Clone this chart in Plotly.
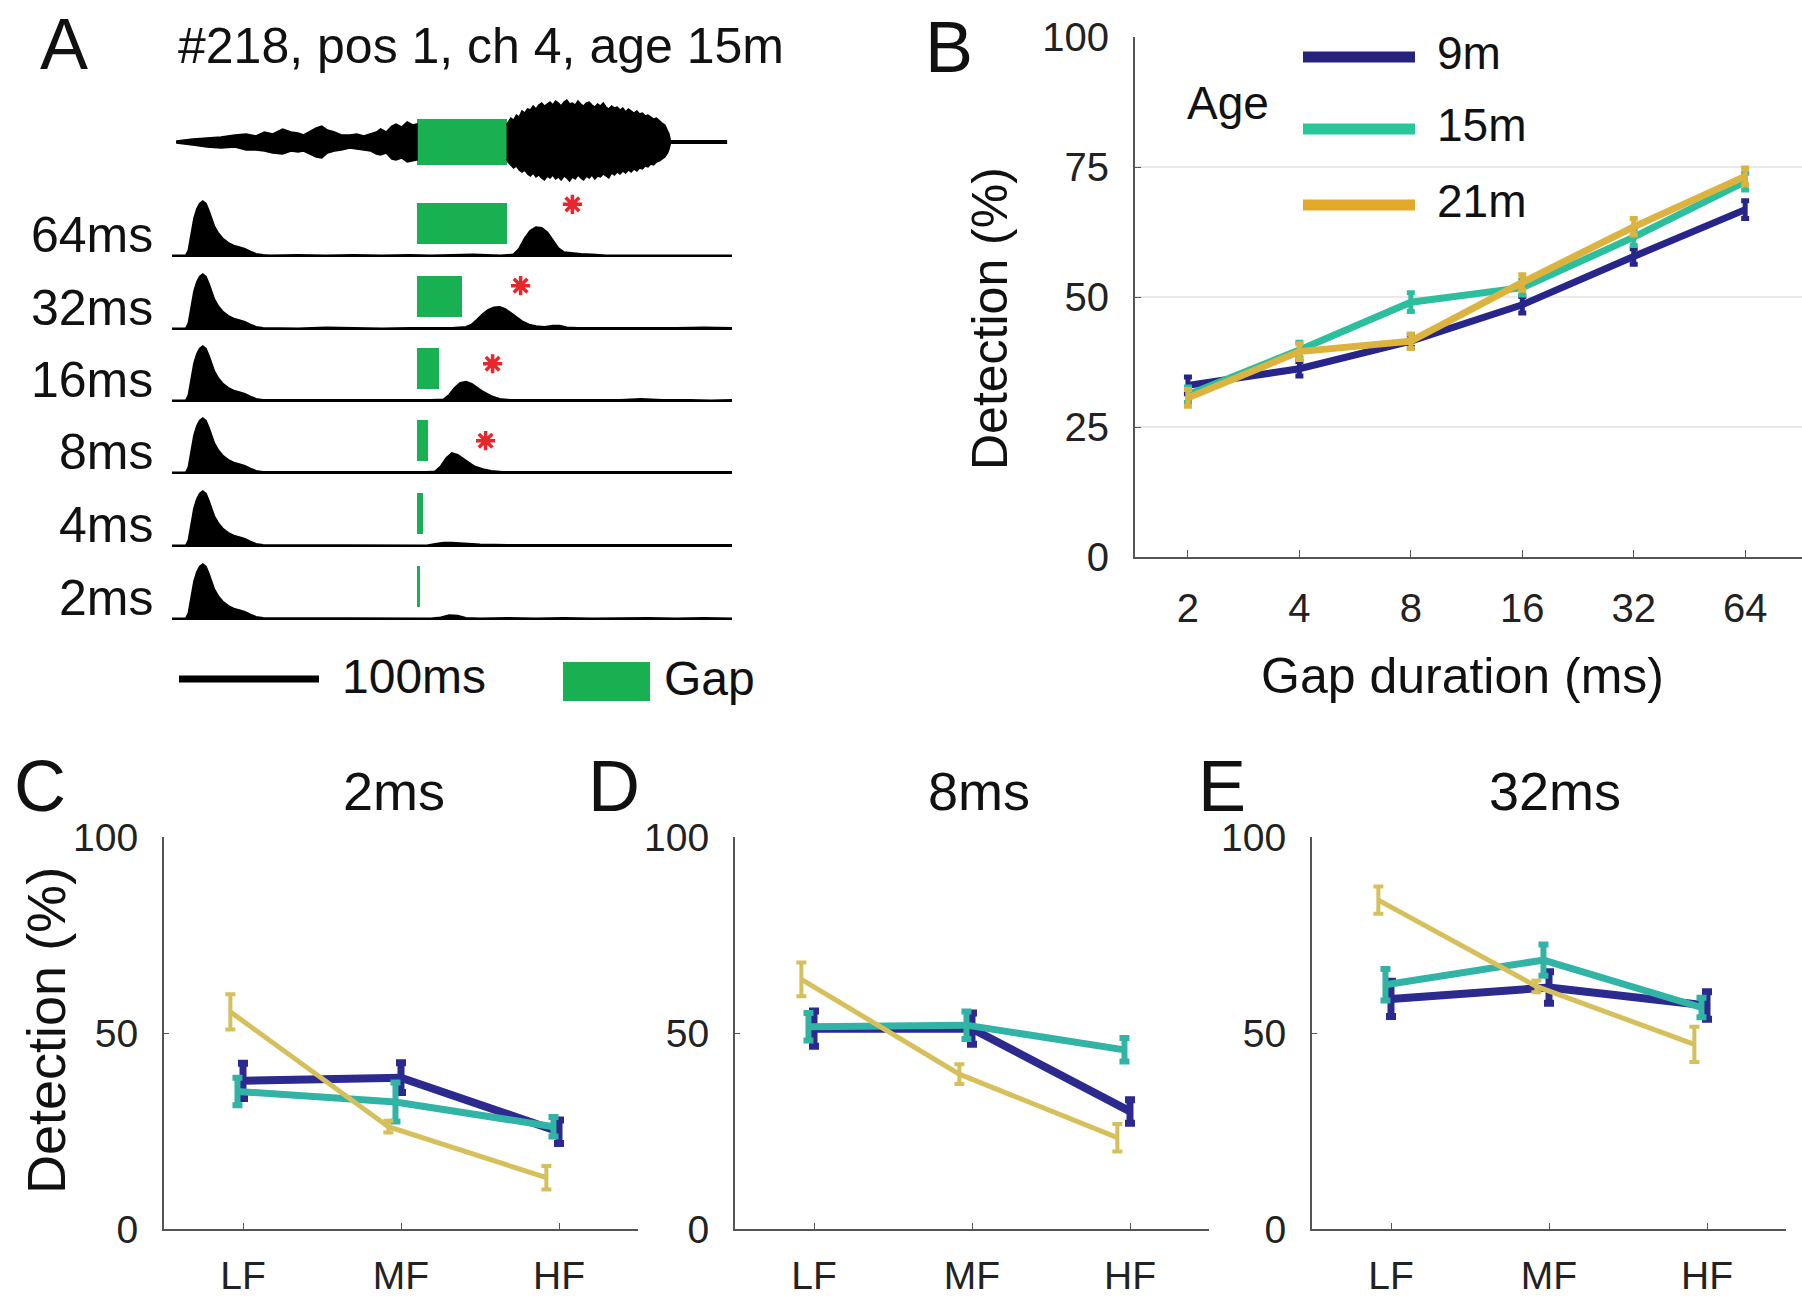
import plotly.graph_objects as go

W, H = 1802, 1302
def px(x): return x / W
def py(y): return 1 - y / H

FONT = "Liberation Sans, Arial, Helvetica, sans-serif"
TXT = "#111111"

# ---------------- Panel A data ----------------
wave_pre_t = [3, 8, 15, 25, 35, 45, 53, 60, 66, 72, 79, 85, 90, 94, 99, 103, 107, 111, 116, 121, 127, 132, 137,
              142, 146, 149, 153, 157, 160, 164, 168, 172, 175]
wave_pre_up = [1, 2, 3, 4, 5, 7, 8, 6, 10, 8, 13, 10, 9, 7, 11, 14, 16, 12, 10, 7, 7, 8, 6, 8, 10, 13, 10, 16,
               18, 15, 20, 17, 18]
wave_pre_lo = [1, 2, 3, 5, 6, 5, 8, 8, 9, 11, 12, 9, 10, 9, 12, 15, 16, 11, 9, 8, 6, 7, 8, 9, 12, 13, 11, 17,
               18, 16, 20, 19, 18]
wave_post_t = [239, 240, 242, 244, 246, 248, 250, 252, 254, 256, 258, 260, 262, 264, 266, 268, 270, 272, 274,
               276, 278, 280, 282, 284, 286, 288, 290, 292, 294, 296, 298, 300, 302, 304, 306, 308, 310, 312,
               314, 316, 318, 320, 322, 324, 326, 328, 330, 332, 334, 336, 338, 340, 342, 344, 346, 348, 350,
               352, 354, 355, 356, 396]
wave_post_up = [17, 19, 24, 22, 27, 25, 31, 29, 33, 32, 36, 33, 37, 39, 36, 38, 40, 37, 41, 39,
                36, 40, 42, 38, 39, 37, 41, 38, 36, 39, 40, 37, 35, 38, 36, 39, 35, 33, 36, 34,
                35, 32, 34, 30, 33, 31, 29, 31, 28, 29, 26, 27, 25, 23, 24, 21, 19, 17, 12, 8,
                1.3, 1.3]
wave_post_lo = [17, 20, 23, 26, 24, 28, 30, 28, 32, 34, 31, 35, 33, 36, 38, 34, 36, 33, 37, 35,
                38, 34, 36, 39, 35, 37, 33, 36, 38, 34, 36, 33, 37, 34, 35, 32, 34, 36, 31, 33,
                30, 32, 29, 31, 28, 30, 27, 29, 26, 27, 24, 25, 22, 23, 20, 19, 17, 15, 11, 7,
                1.3, 1.3]

gap_start = 175
gap_durations = [64, 32, 16, 8, 4, 2]
row_labels = ["64ms", "32ms", "16ms", "8ms", "4ms", "2ms"]

onset_t = [0, 10, 12, 14, 16, 18, 20, 22, 24, 26, 28, 30, 33, 36, 40, 44, 48, 52, 56, 60, 65]
onset_v = [0.02, 0.02, 0.12, 0.42, 0.7, 0.86, 0.96, 1.0, 0.96, 0.84, 0.68, 0.55, 0.42, 0.33, 0.25, 0.2,
           0.17, 0.14, 0.09, 0.05, 0.03]

r64_t = [70, 90, 110, 130, 150, 170, 185, 200, 215, 225, 235, 244, 248, 252, 256, 260, 264, 268, 272, 276,
         280, 286, 292, 300, 310, 330, 350, 370, 400]
r64_v = [0.02, 0.03, 0.02, 0.03, 0.02, 0.03, 0.02, 0.03, 0.04, 0.03, 0.02, 0.04, 0.14, 0.33, 0.47, 0.53, 0.52,
         0.44, 0.3, 0.15, 0.08, 0.06, 0.05, 0.04, 0.02, 0.02, 0.02, 0.02, 0.02]
r32_t = [70, 90, 110, 130, 150, 170, 190, 200, 210, 214, 218, 222, 226, 230, 234, 238, 242, 246, 250, 255,
         260, 266, 272, 277, 282, 290, 300, 320, 340, 360, 380, 400]
r32_v = [0.03, 0.02, 0.04, 0.03, 0.02, 0.03, 0.03, 0.03, 0.05, 0.09, 0.18, 0.28, 0.36, 0.4, 0.41, 0.37, 0.3,
         0.22, 0.15, 0.09, 0.06, 0.05, 0.07, 0.07, 0.04, 0.03, 0.03, 0.02, 0.03, 0.03, 0.04, 0.03]
r16_t = [70, 90, 110, 130, 150, 170, 185, 194, 198, 202, 206, 210, 214, 218, 222, 228, 234, 242, 260, 280,
         300, 320, 335, 350, 370, 385, 400]
r16_v = [0.03, 0.03, 0.02, 0.03, 0.03, 0.02, 0.03, 0.04, 0.12, 0.25, 0.34, 0.36, 0.32, 0.25, 0.18, 0.1, 0.05,
         0.03, 0.03, 0.03, 0.02, 0.03, 0.05, 0.03, 0.03, 0.02, 0.03]
r8_t = [70, 90, 110, 130, 150, 170, 182, 188, 192, 196, 200, 204, 208, 212, 216, 222, 228, 236, 250, 270,
        290, 310, 330, 350, 370, 400]
r8_v = [0.03, 0.03, 0.03, 0.02, 0.03, 0.02, 0.03, 0.04, 0.13, 0.28, 0.37, 0.34, 0.27, 0.19, 0.13, 0.08, 0.05,
        0.03, 0.03, 0.03, 0.02, 0.03, 0.03, 0.02, 0.03, 0.03]
r4_t = [70, 90, 110, 130, 150, 170, 182, 188, 194, 200, 206, 212, 220, 240, 260, 280, 300, 320, 340, 360, 380, 400]
r4_v = [0.03, 0.02, 0.02, 0.02, 0.02, 0.02, 0.02, 0.05, 0.07, 0.07, 0.06, 0.05, 0.04, 0.03, 0.03, 0.03, 0.02,
        0.03, 0.03, 0.02, 0.03, 0.03]
r2_t = [70, 90, 110, 130, 150, 170, 185, 192, 198, 204, 210, 220, 240, 260, 280, 300, 320, 340, 360, 380, 400]
r2_v = [0.03, 0.02, 0.03, 0.02, 0.03, 0.02, 0.02, 0.04, 0.08, 0.07, 0.03, 0.02, 0.03, 0.02, 0.03, 0.02, 0.03,
        0.03, 0.02, 0.03, 0.02]
rows_t = [r64_t, r32_t, r16_t, r8_t, r4_t, r2_t]
rows_v = [r64_v, r32_v, r16_v, r8_v, r4_v, r2_v]

gap_bar_base = 0.24
gap_bar_top = 0.98
star_t = [286, 249, 229, 224]
star_v = [0.95, 0.8, 0.69, 0.6]
scale_bar_ms = 100

# ---------------- Panel B data ----------------
ages = ["9m", "15m", "21m"]
gap_labels = ["2", "4", "8", "16", "32", "64"]
b_9m = [33.0, 36.2, 41.5, 48.5, 57.8, 66.8]
b_15m = [31.2, 39.8, 49.0, 51.8, 61.5, 72.2]
b_21m = [30.6, 39.5, 41.5, 52.8, 63.5, 73.2]
b_9m_err = [1.6, 1.4, 1.2, 1.6, 1.5, 1.7]
b_15m_err = [1.5, 1.5, 1.8, 1.4, 1.6, 1.6]
b_21m_err = [1.6, 1.5, 1.4, 1.5, 1.6, 1.6]

# ---------------- Panels C-E data ----------------
freq_labels = ["LF", "MF", "HF"]
c_9m = [37.8, 38.6, 24.8]; c_9m_err = [4.5, 3.8, 3.0]
c_15m = [35.1, 32.4, 26.1]; c_15m_err = [3.5, 5.0, 2.5]
c_21m = [55.4, 26.1, 13.1]; c_21m_err = [4.5, 1.5, 3.0]
d_9m = [51.1, 51.1, 30.0]; d_9m_err = [4.5, 4.0, 3.0]
d_15m = [51.6, 52.0, 45.7]; d_15m_err = [3.5, 3.5, 3.0]
d_21m = [63.7, 39.5, 23.3]; d_21m_err = [4.3, 2.5, 3.5]
e_9m = [58.7, 61.6, 57.0]; e_9m_err = [4.5, 4.0, 3.5]
e_15m = [62.3, 68.6, 56.5]; e_15m_err = [4.0, 4.0, 2.5]
e_21m = [83.9, 61.9, 47.1]; e_21m_err = [3.5, 1.5, 4.5]
panel_titles = ["2ms", "8ms", "32ms"]

# ---------------- styles ----------------
COL_B = ["#25237d", "#27c79a", "#e2a92a"]
COL_B_LINE = ["#27258a", "#2cbf9e", "#dcb33e"]
COL_CE = ["#2c2a8e", "#31b3a5", "#d6c05c"]
WID_CE = [8, 7, 5]
DODGE = [0.0, -0.035, -0.08]
GREEN = "#19b052"
RED = "#e8262b"
AXC = "#555555"

fig = go.Figure()

# ----- Panel A: waveform (two noisy segments around the gap) -----
for seg_t, seg_up, seg_lo in [(wave_pre_t, wave_pre_up, wave_pre_lo), (wave_post_t, wave_post_up, wave_post_lo)]:
    fig.add_trace(go.Scatter(x=seg_t + seg_t[::-1], y=seg_up + [-v for v in seg_lo[::-1]], fill="toself",
                             fillcolor="black", mode="lines", line=dict(color="black", width=1.5),
                             xaxis="x", yaxis="y", hoverinfo="skip"))
fig.add_trace(go.Bar(x=[gap_start + gap_durations[0] / 2], y=[46], base=[-23], width=[gap_durations[0]],
                     marker=dict(color=GREEN, line=dict(width=0)), xaxis="x", yaxis="y"))

# ----- Panel A: PSTH rows -----
row_base = [257, 330, 402, 474, 547, 620]
row_h = 72
for i, base in enumerate(row_base):
    ya = "y%d" % (i + 2)
    fig.add_trace(go.Scatter(x=onset_t + rows_t[i], y=onset_v + rows_v[i], mode="lines",
                             fill="tozeroy", fillcolor="black", line=dict(color="black", width=2.5),
                             xaxis="x", yaxis=ya, hoverinfo="skip"))
    d = gap_durations[i]
    fig.add_trace(go.Bar(x=[gap_start + d / 2], y=[gap_bar_top - gap_bar_base], base=[gap_bar_base],
                         width=[d], marker=dict(color=GREEN, line=dict(width=0)), xaxis="x", yaxis=ya))
    if i < len(star_t):
        fig.add_trace(go.Scatter(x=[star_t[i]], y=[star_v[i]], mode="markers",
                                 marker=dict(symbol="asterisk-open", size=16, color=RED,
                                             line=dict(color=RED, width=3.5)),
                                 xaxis="x", yaxis=ya, hoverinfo="skip"))

# ----- Panel B -----
bx = list(range(len(gap_labels)))
for k, (vals, errs) in enumerate([(b_9m, b_9m_err), (b_15m, b_15m_err), (b_21m, b_21m_err)]):
    fig.add_trace(go.Scatter(x=bx, y=vals, mode="lines", line=dict(color=COL_B_LINE[k], width=7),
                             error_y=dict(type="data", array=errs, color=COL_B_LINE[k], thickness=5, width=4),
                             xaxis="x3", yaxis="y9", name=ages[k]))

# ----- Panels C-E -----
panels = [
    ([c_9m, c_15m, c_21m], [c_9m_err, c_15m_err, c_21m_err], "x4", "y10"),
    ([d_9m, d_15m, d_21m], [d_9m_err, d_15m_err, d_21m_err], "x5", "y11"),
    ([e_9m, e_15m, e_21m], [e_9m_err, e_15m_err, e_21m_err], "x6", "y12"),
]
for vals3, errs3, xa, ya in panels:
    for k in range(3):
        xs = [j + DODGE[k] for j in range(len(freq_labels))]
        fig.add_trace(go.Scatter(x=xs, y=vals3[k], mode="lines", line=dict(color=COL_CE[k], width=WID_CE[k]),
                                 error_y=dict(type="data", array=errs3[k], color=COL_CE[k],
                                              thickness=WID_CE[k] - 1, width=5),
                                 xaxis=xa, yaxis=ya, name=ages[k]))

# ---------------- layout ----------------
hidden = dict(visible=False, showgrid=False, zeroline=False, fixedrange=True, automargin=False)
lay = dict(
    width=W, height=H, margin=dict(l=0, r=0, t=0, b=0, autoexpand=False), paper_bgcolor="white",
    plot_bgcolor="rgba(0,0,0,0)", showlegend=False, barmode="overlay", bargap=0,
    font=dict(family=FONT, color=TXT),
)
lay["xaxis"] = dict(hidden, domain=[px(172), px(732)], range=[0, 400], anchor="y")
lay["yaxis"] = dict(hidden, domain=[py(187), py(97)], range=[-45, 45], anchor="x")
for i, base in enumerate(row_base):
    lay["yaxis%d" % (i + 2)] = dict(hidden, domain=[py(base + 1), py(base - row_h)], range=[-0.02, 1.3],
                                    anchor="x")
lay["xaxis2"] = dict(domain=[px(172), px(732)], range=[0, 400], anchor="y8", showline=True, linecolor="#333",
                     linewidth=2, ticks="inside", ticklen=7, tickwidth=1.5, tickcolor="#555",
                     tickvals=[0, 100, 200, 300, 400], showticklabels=False, showgrid=False, zeroline=False,
                     automargin=False)
lay["yaxis8"] = dict(domain=[py(636), py(185)], range=[0, 1], anchor="x2", showline=True, linecolor="#555",
                     linewidth=1.5, ticks="", showticklabels=False, showgrid=False, zeroline=False,
                     automargin=False)

# Panel B axes
lay["xaxis3"] = dict(domain=[px(1135), 1.0], range=[-0.475, 5.51], anchor="y9", showline=True, linecolor=AXC,
                     linewidth=2, ticks="inside", ticklen=7, tickcolor=AXC, tickvals=bx, ticktext=gap_labels,
                     tickfont=dict(size=40, color="#222"), ticklabelstandoff=15, showgrid=False, zeroline=False,
                     automargin=False)
lay["yaxis9"] = dict(domain=[py(557), py(37)], range=[0, 100], anchor="x3", showline=True, linecolor=AXC,
                     linewidth=2, ticks="inside", ticklen=6, tickcolor=AXC, tickvals=[0, 25, 50, 75, 100],
                     tickfont=dict(size=40, color="#222"), ticklabelstandoff=16, showgrid=True,
                     gridcolor="#e9e9e9", gridwidth=1.5, zeroline=False, automargin=False)

# Panels C-E axes
ce_dom = [(164, 638), (735, 1209), (1312, 1786)]
for n, (x0, x1) in enumerate(ce_dom):
    xa = "xaxis%d" % (4 + n)
    ya = "yaxis%d" % (10 + n)
    lay[xa] = dict(domain=[px(x0), px(x1)], range=[-0.5, 2.5], anchor="y%d" % (10 + n), showline=True,
                   linecolor=AXC, linewidth=2, ticks="inside", ticklen=6, tickcolor=AXC, tickvals=[0, 1, 2],
                   ticktext=freq_labels, tickfont=dict(size=39, color="#222"), ticklabelstandoff=11,
                   showgrid=False, zeroline=False, automargin=False)
    lay[ya] = dict(domain=[py(1229), py(837)], range=[0, 100], anchor="x%d" % (4 + n), showline=True,
                   linecolor=AXC, linewidth=2, ticks="inside", ticklen=5, tickcolor=AXC, tickvals=[0, 50, 100],
                   tickfont=dict(size=39, color="#222"), ticklabelstandoff=16, showgrid=False, zeroline=False,
                   automargin=False)

fig.update_layout(**lay)

# ---------------- text & legend keys ----------------
def ann(text, x, y, size, xanchor="center", yanchor="middle", angle=0, color=TXT):
    fig.add_annotation(text=text, x=px(x), y=py(y), xref="paper", yref="paper", showarrow=False,
                       xanchor=xanchor, yanchor=yanchor, textangle=angle,
                       font=dict(family=FONT, size=size, color=color))

for L, (x, y) in zip(["A", "B", "C", "D", "E"], [(64, 44), (949, 47), (40, 786), (614, 786), (1222, 786)]):
    ann(L, x, y, 72)
ann("#218, pos 1, ch 4, age 15m", 176, 46, 50, xanchor="left")
for i, base in enumerate(row_base):
    ann(row_labels[i], 155, base - 22, 50, xanchor="right")

# scale bar (100 ms on the panel A time axis) and Gap key
fig.add_shape(type="line", xref="x", yref="paper", x0=5, x1=5 + scale_bar_ms, y0=py(679), y1=py(679),
              line=dict(color="black", width=7))
ann("100ms", 340, 676, 48, xanchor="left")
fig.add_shape(type="rect", xref="paper", yref="paper", x0=px(563), x1=px(650), y0=py(701), y1=py(662),
              fillcolor=GREEN, line=dict(width=0))
ann("Gap", 662, 678, 48, xanchor="left")

# panel B titles and legend
ann("Detection (%)", 990, 319, 50, angle=-90)
ann("Gap duration (ms)", 1462, 676, 50)
ann("Age", 1228, 103, 46)
for k, yy in enumerate([57, 129, 205]):
    fig.add_shape(type="line", xref="paper", yref="paper", x0=px(1303), x1=px(1415), y0=py(yy), y1=py(yy),
                  line=dict(color=COL_B[k], width=11))
    ann(ages[k], 1435, yy - 4, 46, xanchor="left")

# panels C-E titles
ann("Detection (%)", 46, 1031, 54, angle=-90)
for t, cx in zip(panel_titles, [394, 979, 1555]):
    ann(t, cx, 791, 54)

fig.write_html("out.html", config={"displayModeBar": False},
               post_script="document.body.style.margin='0px';document.body.style.padding='0px';")
